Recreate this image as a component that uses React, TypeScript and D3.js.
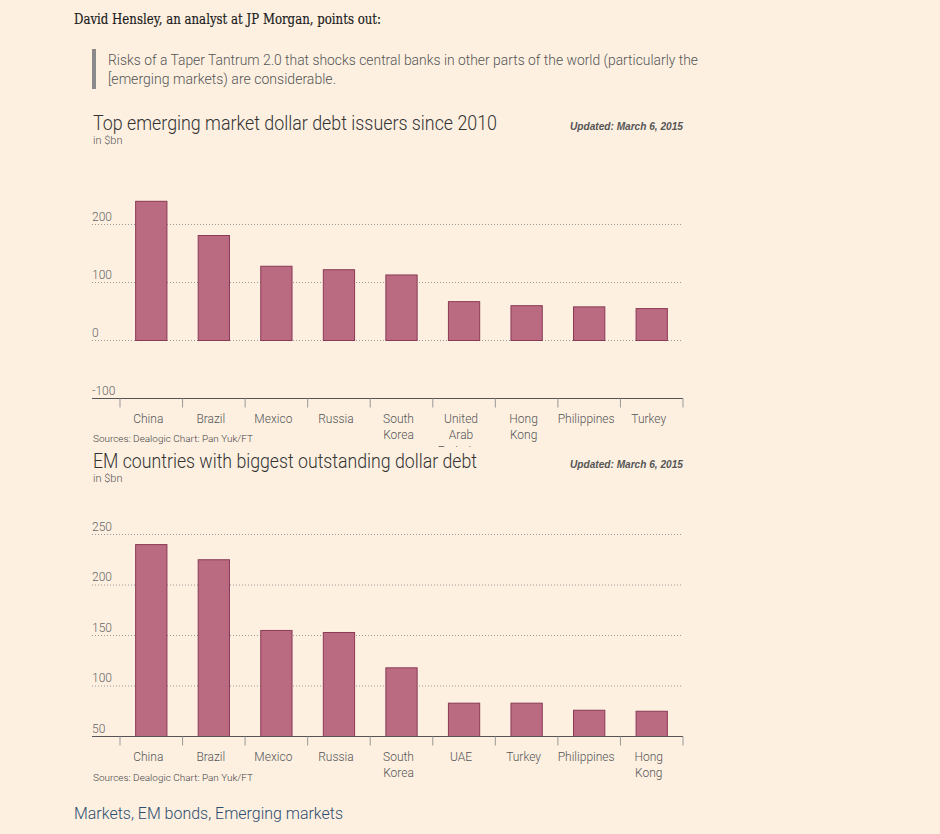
import React from "react";
import * as d3 from "d3";

const chart1Categories = ["China", "Brazil", "Mexico", "Russia", "South Korea", "United Arab Emirates", "Hong Kong", "Philippines", "Turkey"];
const chart1Labels = [["China"], ["Brazil"], ["Mexico"], ["Russia"], ["South", "Korea"], ["United", "Arab", "Emirates"], ["Hong", "Kong"], ["Philippines"], ["Turkey"]];
const chart1Values = [240, 181, 128, 122, 113, 67, 60, 58, 55];
const chart1Ticks = [-100, 0, 100, 200];

const chart2Categories = ["China", "Brazil", "Mexico", "Russia", "South Korea", "UAE", "Turkey", "Philippines", "Hong Kong"];
const chart2Labels = [["China"], ["Brazil"], ["Mexico"], ["Russia"], ["South", "Korea"], ["UAE"], ["Turkey"], ["Philippines"], ["Hong", "Kong"]];
const chart2Values = [240, 225, 155, 153, 118, 83, 83, 76, 75];
const chart2Ticks = [50, 100, 150, 200, 250];

const BG = "#fdf0e1";
const BAR = "#bb6b81";
const BAR_STROKE = "#8a3956";
const SANS = "Roboto, 'Open Sans', sans-serif";

type ChartProps = {
  title: string;
  titleWidth: number;
  categories: string[];
  labels: string[][];
  values: number[];
  ticks: number[];
  domain: [number, number];
  yRange: [number, number];
  titleY: number;
  sourceY: number;
  clipBottom?: number;
  id: string;
};

function BarChart(p: ChartProps) {
  const left = 92;
  const right = 683;
  const x = d3.scaleBand<string>().domain(p.categories).range([120, right]).paddingInner(0.5).paddingOuter(0.25);
  const y = d3.scaleLinear().domain(p.domain).range(p.yRange);
  const base = y(p.domain[0]);
  const zero = p.domain[0] < 0 ? y(0) : base;
  const step = x.step();
  const [r0] = x.range();
  const boundaries = d3.range(p.categories.length + 1).map((i) => r0 + i * step);
  const cx = (i: number) => (x(p.categories[i]) ?? 0) + x.bandwidth() / 2 - 3;
  return (
    <g>
      <text x={93} y={p.titleY} fontFamily={SANS} fontWeight={300} fontSize={21} fill="#333" textLength={p.titleWidth} lengthAdjust="spacingAndGlyphs">{p.title}</text>
      <text x={93} y={p.titleY + 14} fontFamily={SANS} fontWeight={300} fontSize={11} fill="#555">in $bn</text>
      <text x={683} y={p.titleY} textAnchor="end" fontFamily="'Liberation Sans', Arial, sans-serif" fontStyle="italic" fontWeight="bold" fontSize={10} fill="#555" textLength={113} lengthAdjust="spacingAndGlyphs">Updated: March 6, 2015</text>
      {p.ticks.map((t) => (
        <g key={t}>
          {t !== p.domain[0] && (
            <line x1={left} x2={right} y1={y(t)} y2={y(t)} stroke="#9a9a9a" strokeWidth={1} strokeDasharray="1,2" />
          )}
          <text x={left} y={y(t) - 4} fontFamily={SANS} fontWeight={300} fontSize={12} fill="#666">{t}</text>
        </g>
      ))}
      {p.values.map((v, i) => {
        const c = p.categories[i];
        const top = y(v);
        return (
          <rect key={c} x={x(c)} y={top} width={x.bandwidth()} height={zero - top} fill={BAR} stroke={BAR_STROKE} strokeWidth={1} />
        );
      })}
      <line x1={left} x2={right} y1={base} y2={base} stroke="#555" strokeWidth={1.2} />
      {boundaries.map((bx, i) => (
        <line key={i} x1={bx} x2={bx} y1={base} y2={base + 9} stroke="#999" strokeWidth={1} />
      ))}
      <defs>
        <clipPath id={p.id + "clip"}>
          <rect x={0} y={0} width={940} height={p.clipBottom ?? 834} />
        </clipPath>
      </defs>
      <g clipPath={`url(#${p.id}clip)`}>
        {p.labels.map((lines, i) => (
          <text key={i} x={cx(i)} y={base + 24} textAnchor="middle" fontFamily={SANS} fontWeight={300} fontSize={12} fill="#555">
            {lines.map((l, j) => (
              <tspan key={j} x={cx(i)} dy={j === 0 ? 0 : 16}>{l}</tspan>
            ))}
          </text>
        ))}
      </g>
      <text x={93} y={p.sourceY} fontFamily={SANS} fontWeight={300} fontSize={9} fill="#444" textLength={160} lengthAdjust="spacingAndGlyphs">Sources: Dealogic Chart: Pan Yuk/FT</text>
    </g>
  );
}

export default function App() {
  return (
    <div style={{ position: "absolute", left: 0, top: 0, width: 940, height: 834, background: BG }}>
      <svg width={940} height={834} style={{ display: "block" }}>
        <rect x={0} y={0} width={940} height={834} fill={BG} />
        <text x={74} y={24} fontFamily="'DejaVu Serif', Georgia, serif" fontSize={15} fill="#1a1a1a" stroke="#1a1a1a" strokeWidth={0.2} textLength={307} lengthAdjust="spacingAndGlyphs">David Hensley, an analyst at JP Morgan, points out:</text>
        <rect x={92} y={49} width={4} height={40} fill="#8a8a8a" />
        <text x={108} y={65} fontFamily={SANS} fontWeight={300} fontSize={14} fill="#555" textLength={590} lengthAdjust="spacingAndGlyphs">Risks of a Taper Tantrum 2.0 that shocks central banks in other parts of the world (particularly the</text>
        <text x={108} y={84} fontFamily={SANS} fontWeight={300} fontSize={14} fill="#555" textLength={228} lengthAdjust="spacingAndGlyphs">[emerging markets) are considerable.</text>
        <BarChart
          id="c1"
          title="Top emerging market dollar debt issuers since 2010"
          titleWidth={404}
          categories={chart1Categories}
          labels={chart1Labels}
          values={chart1Values}
          ticks={chart1Ticks}
          domain={[-100, 200]}
          yRange={[398.5, 224.5]}
          titleY={130}
          sourceY={442}
          clipBottom={447}
        />
        <BarChart
          id="c2"
          title="EM countries with biggest outstanding dollar debt"
          titleWidth={384}
          categories={chart2Categories}
          labels={chart2Labels}
          values={chart2Values}
          ticks={chart2Ticks}
          domain={[50, 250]}
          yRange={[736.5, 534.5]}
          titleY={468}
          sourceY={781}
        />
        <text x={74} y={819} fontFamily={SANS} fontWeight={300} fontSize={17} fill="#2d4d6e" textLength={269} lengthAdjust="spacingAndGlyphs">Markets, EM bonds, Emerging markets</text>
      </svg>
    </div>
  );
}
